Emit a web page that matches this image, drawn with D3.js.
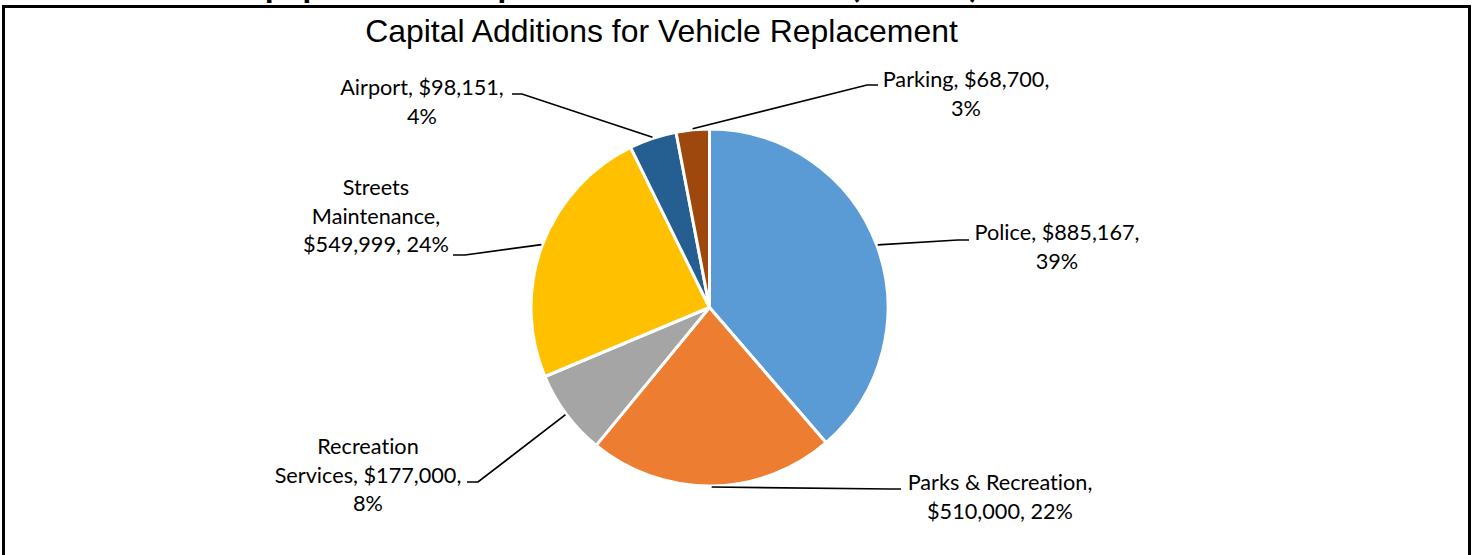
<!DOCTYPE html>
<html><head><meta charset="utf-8">
<script src="https://cdn.jsdelivr.net/npm/d3@7"></script>
<style>
html,body{margin:0;padding:0;background:#fff;overflow:hidden}
text{font-variant-ligatures:none;font-feature-settings:"liga" 0}
</style>
</head><body>
<svg id="chart" width="1473" height="555"></svg>
<script>
// Capital additions by department
const categories = ["Police", "Parks & Recreation", "Recreation Services", "Streets Maintenance", "Airport", "Parking"];
const amounts = [885167, 510000, 177000, 549999, 98151, 68700];
const sliceColors = ["#5B9BD5", "#ED7D31", "#A5A5A5", "#FFC000", "#255E91", "#9E480E"];
const chartTitle = "Capital Additions for Vehicle Replacement";

// page heading above the chart frame (only its lowest strokes fall inside the view)
const headingWords = ["Equipment", "Replacement", "(2021", ")"];

// label placement: words per line, block centre, first baseline, leader knee and tip
const labelLayout = [
  { lines: [2, 1],    cx: 1057, y: 240, knee: [958, 240], tip: [969, 240] },
  { lines: [3, 2],    cx: 1000, y: 490, knee: [890, 489], tip: [901, 489] },
  { lines: [1, 2, 1], cx: 368,  y: 454, knee: [478, 482], tip: [467, 482] },
  { lines: [1, 1, 2], cx: 376,  y: 195, knee: [465, 255], tip: [453, 255] },
  { lines: [2, 1],    cx: 422,  y: 95,  knee: [522, 94],  tip: [512, 94] },
  { lines: [2, 1],    cx: 966,  y: 87,  knee: [867, 85],  tip: [878, 85] }
];

const W = 1473, H = 555;
const cx = 709.5, cy = 307.5, radius = 178.5;
const lineGap = 28.7;
const labelFont = "Lato, 'Open Sans', sans-serif";

const svg = d3.select("#chart");

// size text so a reference string spans a given width
function fitSize(str, family, weight, targetWidth) {
  const t = svg.append("text").attr("font-family", family).attr("font-weight", weight)
    .attr("font-size", 100).text(str);
  const w = t.node().getComputedTextLength();
  t.remove();
  return 100 * targetWidth / w;
}

// page heading: place words so chosen glyphs sit at given x centres
function charCentre(node, i) {
  const e = node.getExtentOfChar(i);
  return e.x + e.width / 2;
}
const probe = svg.append("text").attr("font-family", labelFont).attr("font-weight", 700)
  .attr("font-size", 100).attr("x", 0).attr("y", 0).text(headingWords[0]);
const qpGap = charCentre(probe.node(), 4) - charCentre(probe.node(), 1);
probe.remove();
const headSize = 100 * 49 / qpGap;
const headAnchors = [[1, 263.5], [2, 507.5], [0, 855], [0, 974]];
const heading = svg.append("g");
headingWords.forEach((w, i) => {
  const t = heading.append("text")
    .attr("font-family", labelFont).attr("font-weight", 700)
    .attr("font-size", headSize).attr("x", 0).attr("y", -3)
    .attr("fill", "#000").text(w);
  const [ci, tx] = headAnchors[i];
  t.attr("x", tx - charCentre(t.node(), ci));
});

// frame
svg.append("rect")
  .attr("x", 3.5).attr("y", 6.5)
  .attr("width", W - 7).attr("height", H + 20)
  .attr("fill", "#fff").attr("stroke", "#000").attr("stroke-width", 3);

// title
const titleSize = fitSize(chartTitle, "'Liberation Sans', Arial, sans-serif", 400, 593);
svg.append("text")
  .attr("x", 661.5).attr("y", 42)
  .attr("text-anchor", "middle")
  .attr("font-family", "'Liberation Sans', Arial, sans-serif")
  .attr("font-size", titleSize)
  .attr("fill", "#000")
  .text(chartTitle);

const data = categories.map((c, i) => ({ name: c, value: amounts[i], color: sliceColors[i], layout: labelLayout[i] }));
const total = d3.sum(amounts);

const pie = d3.pie().sort(null).value(d => d.value).startAngle(0).endAngle(2 * Math.PI);
const arcs = pie(data);
const arc = d3.arc().innerRadius(0).outerRadius(radius);
const edge = d3.arc().innerRadius(radius + 1).outerRadius(radius + 1);

const g = svg.append("g").attr("transform", `translate(${cx},${cy})`);
g.selectAll("path.slice").data(arcs).join("path")
  .attr("class", "slice")
  .attr("d", arc)
  .attr("fill", d => d.data.color)
  .attr("stroke", "#fff")
  .attr("stroke-width", 3)
  .attr("stroke-linejoin", "round");

// leader lines from slice edge to labels
const fmt = d3.format(",");
const line = d3.line();
svg.selectAll("path.leader").data(arcs).join("path")
  .attr("class", "leader")
  .attr("d", d => {
    const [ex, ey] = edge.centroid(d);
    return line([[cx + ex, cy + ey], d.data.layout.knee, d.data.layout.tip]);
  })
  .attr("fill", "none")
  .attr("stroke", "#000")
  .attr("stroke-width", 1.7);

const labelSize = fitSize("Police, $885,167,", labelFont, 400, 165);

svg.selectAll("text.label").data(arcs).join("text")
  .attr("class", "label")
  .attr("font-family", labelFont)
  .attr("font-size", labelSize)
  .attr("fill", "#000")
  .attr("text-anchor", "middle")
  .each(function (d) {
    const pct = Math.round(d.data.value / total * 100) + "%";
    const words = `${d.data.name}, $${fmt(d.data.value)}, ${pct}`.split(" ");
    const t = d3.select(this);
    let k = 0;
    d.data.layout.lines.forEach((n, li) => {
      t.append("tspan")
        .attr("x", d.data.layout.cx)
        .attr("y", d.data.layout.y + li * lineGap)
        .text(words.slice(k, k + n).join(" "));
      k += n;
    });
  });
</script>
</body></html>
